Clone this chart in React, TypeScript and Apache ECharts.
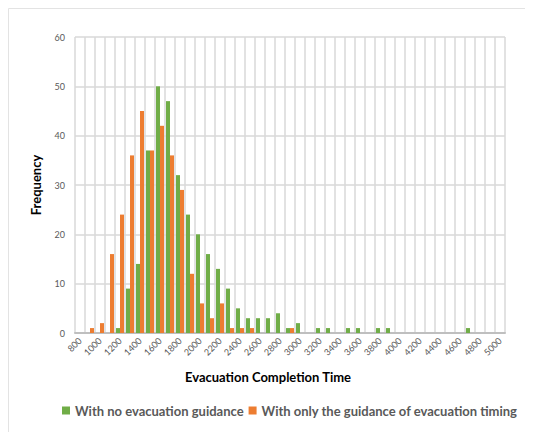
import React, { useEffect, useRef } from "react";
import * as echarts from "echarts";

const categories: string[] = [];
for (let v = 800; v <= 5000; v += 100) categories.push(String(v));

// Frequencies per bin (800 .. 5000, step 100)
const noGuidance = [
  0, 0, 0, 0, 1, 9, 14, 37, 50, 47, 32, 24, 20, 16, 13, 9, 5, 3, 3, 3, 4, 1, 2, 0,
  1, 1, 0, 1, 1, 0, 1, 1, 0, 0, 0, 0, 0, 0, 0, 1, 0, 0, 0,
];
const timingGuidance = [
  0, 1, 2, 16, 24, 36, 45, 37, 42, 36, 29, 12, 6, 3, 6, 1, 1, 1, 0, 0, 0, 1, 0, 0,
  0, 0, 0, 0, 0, 0, 0, 0, 0, 0, 0, 0, 0, 0, 0, 0, 0, 0, 0,
];

const seriesNames = [
  "With no evacuation guidance",
  "With only the guidance of evacuation timing",
];
const yTicks = { min: 0, max: 60, interval: 10 };

const FONT = "Lato";

export default function App() {
  const ref = useRef<HTMLDivElement>(null);
  useEffect(() => {
    if (!ref.current) return;
    const chart = echarts.init(ref.current, undefined, { renderer: "svg" });
    chart.setOption({
      animation: false,
      backgroundColor: "#ffffff",
      textStyle: { fontFamily: FONT },
      grid: { left: 67, top: 29, width: 430, height: 296, containLabel: false },
      legend: {
        left: 49,
        top: 391,
        icon: "rect",
        itemWidth: 8,
        itemHeight: 8,
        itemGap: 5,
        textStyle: { fontFamily: FONT, fontSize: 13, fontWeight: "bold", color: "#595959" },
        data: seriesNames,
      },
      xAxis: {
        type: "category",
        data: categories,
        boundaryGap: true,
        axisLine: { show: true, lineStyle: { color: "#bfbfbf", width: 2 } },
        axisTick: { show: false },
        axisLabel: {
          interval: 1,
          rotate: 45,
          margin: 6,
          fontSize: 9,
          color: "#595959",
          fontFamily: FONT,
        },
        splitLine: { show: true, interval: 0, lineStyle: { color: "#d9d9d9", width: 1.5 } },
      },
      yAxis: {
        type: "value",
        min: yTicks.min,
        max: yTicks.max,
        interval: yTicks.interval,
        axisLine: { show: false },
        axisTick: { show: false },
        axisLabel: { fontSize: 9, color: "#595959", margin: 10, fontFamily: FONT },
        splitLine: { show: true, lineStyle: { color: "#d9d9d9", width: 1.5 } },
      },
      graphic: [
        { type: "line", shape: { x1: 0.5, y1: 0.5, x2: 525, y2: 0.5 }, style: { stroke: "#e3e3e3", lineWidth: 1 } },
        { type: "line", shape: { x1: 0.5, y1: 0.5, x2: 0.5, y2: 424 }, style: { stroke: "#e3e3e3", lineWidth: 1 } },
        {
          type: "text",
          x: 28,
          y: 177,
          rotation: Math.PI / 2,
          style: {
            text: "Frequency",
            fontFamily: FONT,
            fontSize: 13,
            fontWeight: "bold",
            fill: "#000000",
            align: "center",
            verticalAlign: "middle",
          },
        },
        {
          type: "text",
          x: 260,
          y: 369,
          style: {
            text: "Evacuation Completion Time",
            fontFamily: FONT,
            fontSize: 13,
            fontWeight: "bold",
            fill: "#000000",
            align: "center",
            verticalAlign: "middle",
          },
        },
      ],
      series: [
        {
          name: seriesNames[0],
          type: "bar",
          data: noGuidance,
          itemStyle: { color: "#70ad47" },
          barGap: "0%",
          barCategoryGap: "20%",
        },
        {
          name: seriesNames[1],
          type: "bar",
          data: timingGuidance,
          itemStyle: { color: "#ed7d31" },
          barGap: "0%",
          barCategoryGap: "20%",
        },
      ],
    });
    return () => chart.dispose();
  }, []);
  return <div ref={ref} style={{ width: 525, height: 424 }} />;
}
